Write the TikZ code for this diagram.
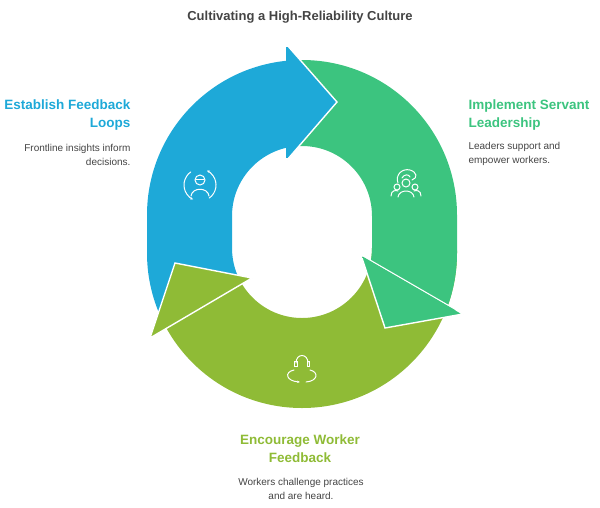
\documentclass[tikz,border=0pt]{standalone}
\usepackage{fontspec}
\setmainfont{Liberation Sans}
\usetikzlibrary{arrows.meta}
\definecolor{cb}{HTML}{1EA9D8}
\definecolor{cg}{HTML}{3CC47F}
\definecolor{co}{HTML}{8FBB36}
\definecolor{ctx}{HTML}{444444}
\begin{document}
\begin{tikzpicture}[x=1pt,y=-1pt,
  ring/.style={even odd rule},
  head/.style={draw=white,line width=1.4pt,line join=miter},
  ic/.style={draw=white,line width=1pt,line cap=round},
  ttl/.style={font=\fontsize{13}{15}\selectfont\bfseries,text=ctx},
  hd/.style={font=\fontsize{13.5}{18}\selectfont\bfseries},
  bd/.style={font=\fontsize{10}{14}\selectfont,text=ctx}]
\useasboundingbox (0,0) rectangle (600,507);
% olive body
\begin{scope}
\clip (302,232) -- (700,280) -- (700,700) -- (-100,700) -- (-100,485) -- (252,278) -- cycle;
\fill[co,ring] (147,60) [rounded corners=155pt] rectangle (457,408) [sharp corners] (232,146) [rounded corners=70pt] rectangle (372,318);
\end{scope}
% green body
\begin{scope}
\clip (295,232) -- (295,-100) -- (700,-100) -- (700,451) -- (361,255) -- cycle;
\fill[cg,ring] (147,60) [rounded corners=155pt] rectangle (457,408) [sharp corners] (232,146) [rounded corners=70pt] rectangle (372,318);
\end{scope}
\path[fill=cg,head] (361,255) -- (385,328) -- (463,314) -- cycle;
% blue body
\begin{scope}
\clip (287,232) -- (287,-100) -- (-100,-100) -- (-100,485) -- (252,278) -- cycle;
\fill[cb,ring] (147,60) [rounded corners=155pt] rectangle (457,408) [sharp corners] (232,146) [rounded corners=70pt] rectangle (372,318);
\end{scope}
\path[fill=cb,head] (287,45) -- (337,102) -- (287,160) -- cycle;
\path[fill=co,head] (252,278) -- (175,263) -- (150,338) -- cycle;
\fill[cb] (287.7,47) -- (287.7,158) -- (286,158) -- (286,47) -- cycle;
\fill[cg] (362.5,256.5) -- (455,310) -- (456,312) -- (362,257.5) -- cycle;
% icon 1
\begin{scope}[shift={(200,185)},y=1pt]
\draw[ic,-{Stealth[length=3pt]}] (125:16) arc[start angle=125,end angle=245,radius=16];
\draw[ic,-{Stealth[length=3pt]}] (305:16) arc[start angle=305,end angle=425,radius=16];
\draw[ic] (0,5) circle[radius=5];
\draw[ic] (-4,6) -- (4,6);
\draw[ic] (-9,-11) .. controls (-8,-2) and (8,-2) .. (9,-11);
\end{scope}
% icon 2
\draw[ic] (398,183) .. controls (395,175) and (402,168) .. (410,170) .. controls (417,172) and (418,178) .. (412,180);
\draw[ic] (402,178) .. controls (404,174) and (409,174) .. (410,177);
\draw[ic] (406,183) circle[radius=4];
\draw[ic] (397,187) circle[radius=3];
\draw[ic] (415,187) circle[radius=3];
\draw[ic] (398,197) .. controls (399,189) and (413,189) .. (414,197);
\draw[ic] (391,196) .. controls (391,190) and (396,190) .. (398,191);
\draw[ic] (421,196) .. controls (421,190) and (416,190) .. (414,191);
% icon 3
\draw[ic] (296,363) .. controls (296,353) and (308,353) .. (308,363);
\draw[ic] (294.5,361) rectangle (297,366);
\draw[ic] (307,361) rectangle (309.5,366);
\draw[ic,-{Stealth[length=3pt]}] (294,370) .. controls (284,372) and (286,381) .. (300,382);
\draw[ic] (310,370) .. controls (319,372) and (318,381) .. (306,382);
% texts
\node[ttl] (t) at (300,17) {Cultivating a High-Reliability Culture};
\node[hd,text=cb,align=right,anchor=north east] (l1) at (134,96) {Establish Feedback\\Loops};
\node[bd,align=right,anchor=north east] (l2) at (134,141) {Frontline insights inform\\decisions.};
\node[hd,text=cg,align=left,anchor=north west] (r1) at (465,96) {Implement Servant\\Leadership};
\node[bd,align=left,anchor=north west] (r2) at (465,139) {Leaders support and\\empower workers.};
\node[hd,text=co,align=center] (b1) at (300,449) {Encourage Worker\\Feedback};
\node[bd,align=center] (b2) at (301,489) {Workers challenge practices\\and are heard.};
\end{tikzpicture}
\end{document}
